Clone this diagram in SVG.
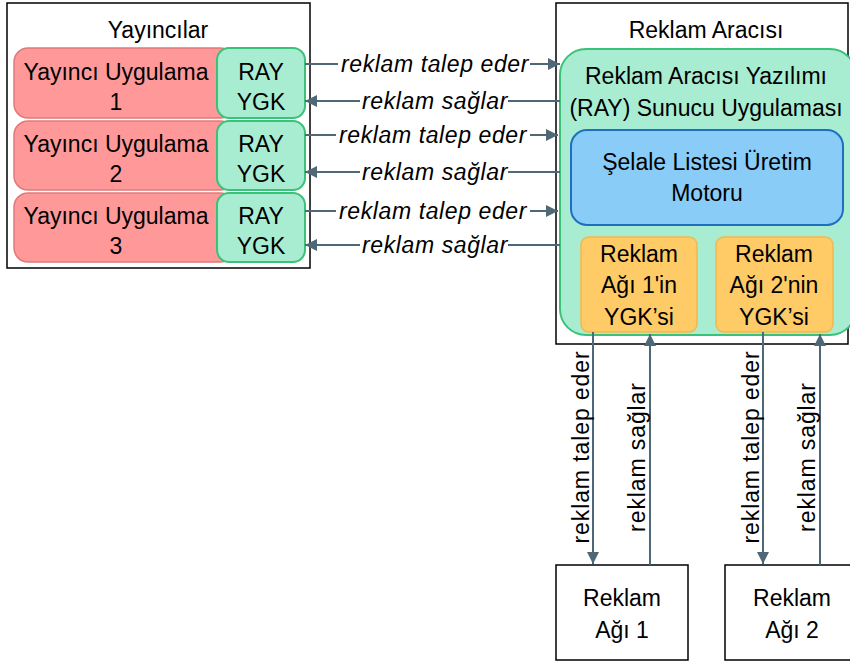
<svg xmlns="http://www.w3.org/2000/svg" width="850" height="662" viewBox="0 0 850 662">
  <defs>
    <marker id="ah" viewBox="0 0 12 12" refX="12" refY="6" markerWidth="12" markerHeight="12" markerUnits="userSpaceOnUse" orient="auto-start-reverse">
      <path d="M0,0 L12,6 L0,12 z" fill="#4f6877"/>
    </marker>
    <style>
      text { font-family: "Liberation Sans", Arial, sans-serif; font-size: 23px; fill: #000; text-anchor: middle; }
      .lbl { font-style: italic; letter-spacing: 0.6px; }
      .vlbl { letter-spacing: 0.9px; }
      .frame { fill: #fff; stroke: #000; stroke-width: 1.5; }
      .pub { fill: #ff9999; stroke: #e07a7a; stroke-width: 1.5; }
      .sdk { fill: #a8ecd2; stroke: #3cc178; stroke-width: 2; }
      .eng { fill: #88ccf7; stroke: #1f6fbf; stroke-width: 2; }
      .net { fill: #ffcb66; stroke: #f2b84e; stroke-width: 1.5; }
      .wire { stroke: #4f6877; stroke-width: 2; fill: none; }
    </style>
  </defs>

  <!-- publishers -->
  <g id="publishers">
    <rect class="frame" x="7" y="3" width="303" height="265"/>
    <text x="158" y="38">Yayıncılar</text>
  </g>
  <g id="pub1">
    <rect class="pub" x="14" y="48" width="220" height="70" rx="14"/>
    <rect class="sdk" x="217" y="48" width="88" height="70" rx="12"/>
    <text x="116" y="80">Yayıncı Uygulama</text>
    <text x="116" y="110">1</text>
    <text x="261" y="80">RAY</text>
    <text x="261" y="110">YGK</text>
  </g>
  <g id="pub2">
    <rect class="pub" x="14" y="121" width="220" height="69" rx="14"/>
    <rect class="sdk" x="217" y="121" width="88" height="69" rx="12"/>
    <text x="116" y="152">Yayıncı Uygulama</text>
    <text x="116" y="182">2</text>
    <text x="261" y="152">RAY</text>
    <text x="261" y="182">YGK</text>
  </g>
  <g id="pub3">
    <rect class="pub" x="14" y="193" width="220" height="69" rx="14"/>
    <rect class="sdk" x="217" y="193" width="88" height="69" rx="12"/>
    <text x="116" y="224">Yayıncı Uygulama</text>
    <text x="116" y="254">3</text>
    <text x="261" y="224">RAY</text>
    <text x="261" y="254">YGK</text>
  </g>

  <!-- ad mediator -->
  <g id="mediator">
    <rect class="frame" x="556" y="3" width="292" height="341"/>
    <text x="706" y="38">Reklam Aracısı</text>
  </g>
  <g id="server">
    <rect class="sdk" x="560" y="49" width="296" height="286" rx="26"/>
    <text x="706" y="84">Reklam Aracısı Yazılımı</text>
    <text x="706" y="116">(RAY) Sunucu Uygulaması</text>
  </g>
  <g id="engine">
    <rect class="eng" x="571" y="130" width="272" height="95" rx="16"/>
    <text x="707" y="170">Şelale Listesi Üretim</text>
    <text x="707" y="201">Motoru</text>
  </g>
  <g id="sdk-net1">
    <rect class="net" x="581" y="237" width="116" height="95" rx="8"/>
    <text x="639" y="262">Reklam</text>
    <text x="639" y="293">Ağı 1'in</text>
    <text x="639" y="325">YGK’si</text>
  </g>
  <g id="sdk-net2">
    <rect class="net" x="716" y="237" width="117" height="95" rx="8"/>
    <text x="774" y="262">Reklam</text>
    <text x="774" y="293">Ağı 2'nin</text>
    <text x="774" y="325">YGK’si</text>
  </g>

  <!-- ad networks -->
  <g id="net1">
    <rect class="frame" x="556" y="565" width="132" height="95"/>
    <text x="622" y="606">Reklam</text>
    <text x="622" y="638">Ağı 1</text>
  </g>
  <g id="net2">
    <rect class="frame" x="725" y="565" width="130" height="95"/>
    <text x="792" y="606">Reklam</text>
    <text x="792" y="638">Ağı 2</text>
  </g>

  <!-- connectors -->
  <g id="connectors">
    <line class="wire" x1="305" y1="64" x2="338" y2="64"/>
    <line class="wire" x1="530" y1="64" x2="560" y2="64" marker-end="url(#ah)"/>
    <line class="wire" x1="560" y1="101" x2="508" y2="101"/>
    <line class="wire" x1="360" y1="101" x2="305" y2="101" marker-end="url(#ah)"/>

    <line class="wire" x1="305" y1="135" x2="336" y2="135"/>
    <line class="wire" x1="530" y1="135" x2="558" y2="135" marker-end="url(#ah)"/>
    <line class="wire" x1="560" y1="172" x2="508" y2="172"/>
    <line class="wire" x1="360" y1="172" x2="305" y2="172" marker-end="url(#ah)"/>

    <line class="wire" x1="305" y1="211" x2="336" y2="211"/>
    <line class="wire" x1="530" y1="211" x2="558" y2="211" marker-end="url(#ah)"/>
    <line class="wire" x1="560" y1="245" x2="508" y2="245"/>
    <line class="wire" x1="360" y1="245" x2="305" y2="245" marker-end="url(#ah)"/>

    <text class="lbl" x="435" y="72">reklam talep eder</text>
    <text class="lbl" x="435" y="109">reklam sağlar</text>
    <text class="lbl" x="433" y="143">reklam talep eder</text>
    <text class="lbl" x="435" y="180">reklam sağlar</text>
    <text class="lbl" x="433" y="219">reklam talep eder</text>
    <text class="lbl" x="435" y="253">reklam sağlar</text>

    <line class="wire" x1="593" y1="332" x2="593" y2="564" marker-end="url(#ah)"/>
    <line class="wire" x1="650" y1="565" x2="650" y2="334" marker-end="url(#ah)"/>
    <line class="wire" x1="763" y1="332" x2="763" y2="564" marker-end="url(#ah)"/>
    <line class="wire" x1="820" y1="565" x2="820" y2="334" marker-end="url(#ah)"/>

    <text class="vlbl" transform="translate(589,447) rotate(-90)">reklam talep eder</text>
    <text class="vlbl" transform="translate(645,457) rotate(-90)">reklam sağlar</text>
    <text class="vlbl" transform="translate(759,447) rotate(-90)">reklam talep eder</text>
    <text class="vlbl" transform="translate(815,457) rotate(-90)">reklam sağlar</text>
  </g>
</svg>
